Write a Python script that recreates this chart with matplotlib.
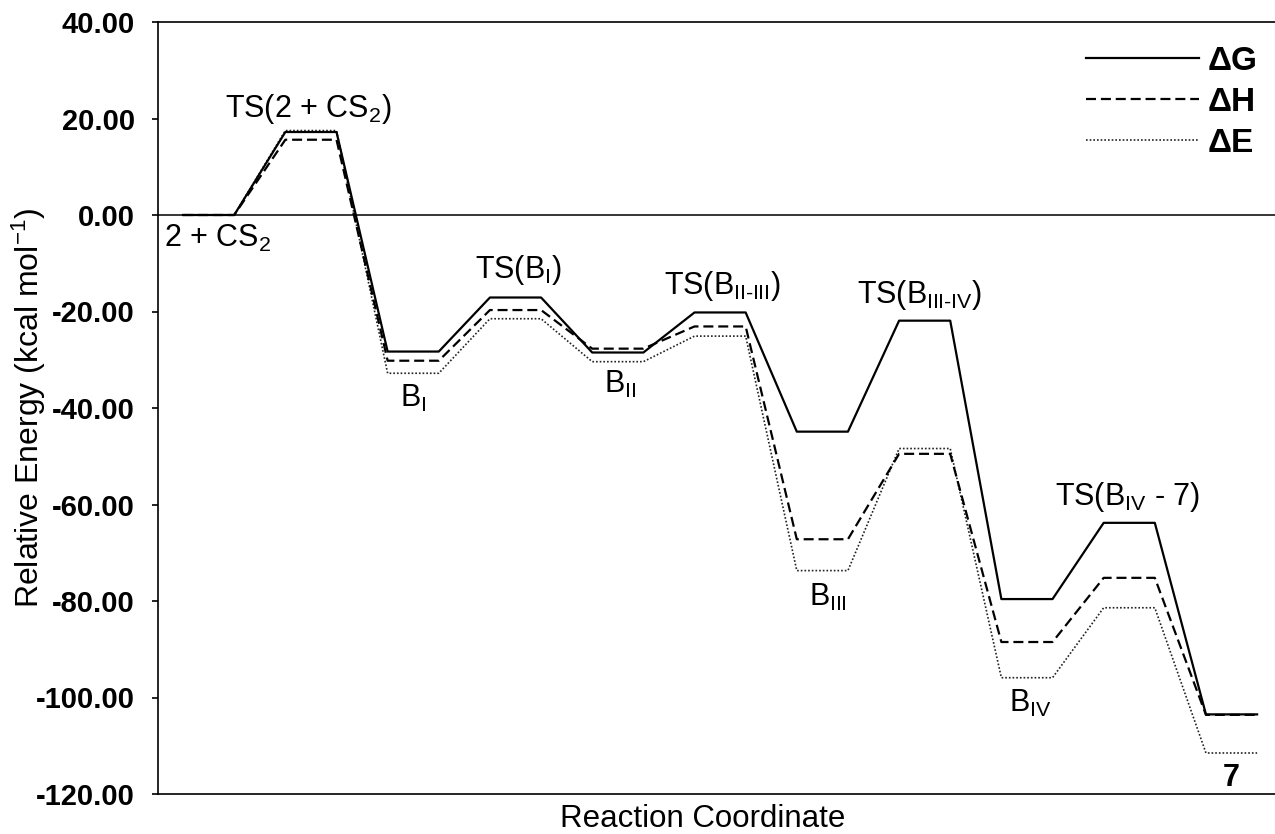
import numpy as np
import matplotlib
matplotlib.use('Agg')
from matplotlib import pyplot as plt
from matplotlib.ticker import FormatStrFormatter

plt.rcParams['font.family'] = ['Liberation Sans', 'DejaVu Sans']
plt.rcParams['mathtext.fontset'] = 'custom'
plt.rcParams['mathtext.rm'] = 'Liberation Sans'
plt.rcParams['mathtext.it'] = 'Liberation Sans:italic'
plt.rcParams['mathtext.bf'] = 'Liberation Sans:bold'
plt.rcParams['axes.unicode_minus'] = False

# species along the reaction path
states = [r'2 + CS$_2$', r'TS(2 + CS$_2$)', r'B$_{\mathrm{I}}$', r'TS(B$_{\mathrm{I}}$)',
          r'B$_{\mathrm{II}}$', r'TS(B$_{\mathrm{II\text{-}III}}$)', r'B$_{\mathrm{III}}$',
          r'TS(B$_{\mathrm{III\text{-}IV}}$)', r'B$_{\mathrm{IV}}$', r'TS(B$_{\mathrm{IV}}$ - 7)', '7']
dG = [0, 17.2, -28.3, -17.1, -28.5, -20.2, -44.9, -21.9, -79.6, -63.8, -103.5]
dH = [0, 15.6, -30.2, -19.7, -27.7, -23.1, -67.2, -49.5, -88.5, -75.2, -103.6]
dE = [0, 17.5, -32.8, -21.5, -30.4, -25.1, -73.7, -48.4, -95.9, -81.4, -111.5]

# label placement (x in path units, y = baseline in kcal/mol)
lab_x = [-0.37, 2.44, 4.5, 6.55, 8.54, 10.54, 12.6, 14.41, 16.56, 18.47, 20.49]
lab_y = [-6.6, 20.4, -39.8, -13.0, -36.9, -16.3, -81.0, -18.2, -102.9, -60.0, -118.4]
lab_ha = ['left'] + ['center'] * 10
lab_wt = ['normal'] * 10 + ['bold']

yticks = np.arange(-120, 41, 20)


def path(vals):
    # each state is a short plateau: two points per state
    xs = np.arange(2 * len(vals))
    ys = np.repeat(vals, 2)
    return xs, ys


fig = plt.figure(figsize=(12.75, 8.34), dpi=100)
ax = fig.add_axes([158 / 1275, 1 - 794 / 834, 1 - 158 / 1275, 772 / 834])

ax.axhline(0, color='black', lw=1.1, zorder=1)

x, y = path(dG)
ax.plot(x, y, color='black', lw=1.6, label='ΔG', zorder=3)
x, y = path(dH)
ax.plot(x, y, color='black', lw=1.6, dashes=(4.5, 2.2), label='ΔH', zorder=3)
x, y = path(dE)
ax.plot(x, y, color='#222222', lw=1.2, dashes=(1, 1.2), label='ΔE', zorder=2)

for s, lx, ly, ha, wt in zip(states, lab_x, lab_y, lab_ha, lab_wt):
    ax.text(lx, ly, s, ha=ha, va='baseline', fontsize=22, fontweight=wt)

ax.set_xlim(-0.49, 21.35)
ax.set_ylim(-120, 40)
ax.set_yticks(yticks)
ax.yaxis.set_major_formatter(FormatStrFormatter('%.2f'))
ax.set_xticks([])
ax.tick_params(axis='y', direction='out', length=4.5, width=1.2, pad=12, labelsize=21)
for t in ax.get_yticklabels():
    t.set_fontweight('bold')
ax.spines['right'].set_visible(False)
for sp in ['left', 'top', 'bottom']:
    ax.spines[sp].set_linewidth(1.2)

ax.set_ylabel(r'Relative Energy (kcal mol$^{-1}$)', fontsize=23)
ax.yaxis.set_label_coords(-129 / 1117, 0.5)
ax.yaxis.label.set_va('center')
ax.set_xlabel('Reaction Coordinate', fontsize=22.5)
ax.xaxis.set_label_coords((703 - 158) / 1117, -25 / 772)
ax.xaxis.label.set_va('center')

leg = ax.legend(loc='upper right', bbox_to_anchor=(1258 / 1275, 1 - 46 / 834),
                bbox_transform=fig.transFigure, frameon=False,
                prop={'size': 24, 'weight': 'bold'},
                handlelength=3.4, handletextpad=0.27, labelspacing=0.3,
                borderpad=0, borderaxespad=0)

fig.savefig('out.png', dpi=100)
